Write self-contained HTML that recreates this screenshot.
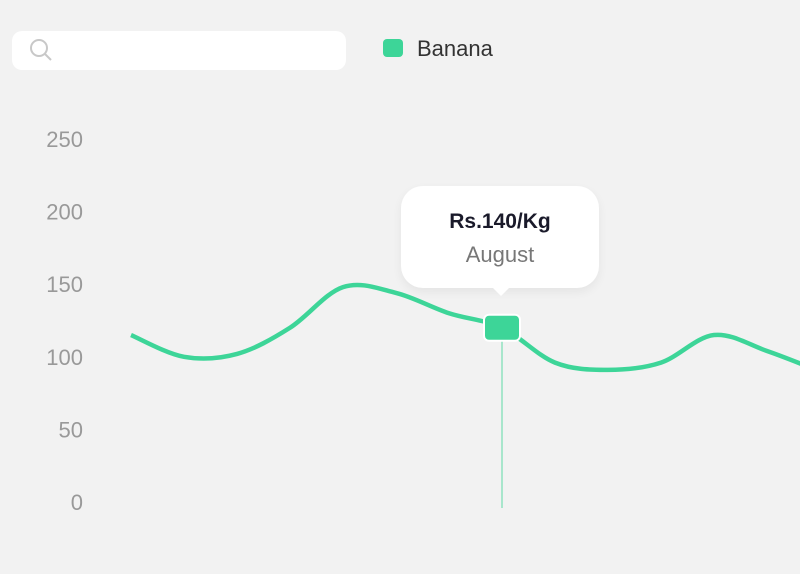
<!DOCTYPE html>
<html><head><meta charset="utf-8"><style>
body{margin:0;background:#f2f2f2;font-family:"Liberation Sans",sans-serif;}
#wrap{position:relative;width:800px;height:574px;overflow:hidden;background:#f2f2f2;}
</style></head><body>
<div id="wrap">
<div style="position:absolute;left:12px;top:31px;width:334px;height:39px;background:#fff;border-radius:10px;">
<svg width="26" height="26" style="position:absolute;left:16px;top:6px"><circle cx="11" cy="11" r="8" fill="none" stroke="#c8c8c8" stroke-width="2"/><line x1="17" y1="17" x2="23" y2="23" stroke="#c8c8c8" stroke-width="2"/></svg>
</div>
<div style="position:absolute;left:383px;top:38px;">
<div style="position:absolute;left:0;top:1px;width:20px;height:18px;background:#3dd598;border-radius:4px"></div>
<div style="position:absolute;left:34px;top:-2px;font-size:22px;color:#333;white-space:nowrap">Banana</div>
</div>
<svg id="chart" width="800" height="574" style="position:absolute;left:0;top:0"></svg>
<div style="position:absolute;left:401px;top:186px;width:198px;height:102px;background:#fff;border-radius:22px;box-shadow:0 4px 10px rgba(0,0,0,0.06);text-align:center;">
<div style="margin-top:24px;font-size:21px;font-weight:bold;color:#1a1a2a">Rs.140/Kg</div>
<div style="margin-top:8px;font-size:22px;color:#777">August</div>
<div style="position:absolute;left:91px;bottom:-8px;width:0;height:0;border-left:9px solid transparent;border-right:9px solid transparent;border-top:9px solid #fff"></div>
</div>
</div>
<script>
const categories=["Jan","Feb","Mar","Apr","May","Jun","Jul","Aug","Sep","Oct","Nov","Dec","Jan2","Feb2"];
const values=[115,100,102,120,148,144,130,120,96,91,96,115,104,90];
const yTicks=[0,50,100,150,200,250];
const activeIndex=7;
const svg=document.getElementById('chart');
const NS='http://www.w3.org/2000/svg';
const x=i=>131+53*i;
const y=v=>502-v*1.452;
yTicks.forEach(t=>{
 const el=document.createElementNS(NS,'text');
 
 
 el.setAttribute('x',83);el.setAttribute('y',y(t)+8);
 el.setAttribute('text-anchor','end');el.setAttribute('font-size','22');el.setAttribute('fill','#999');
 el.setAttribute('font-family','Liberation Sans, sans-serif');
 el.textContent=t;svg.appendChild(el);
});
const pts=values.map((v,i)=>[x(i),y(v)]);
let d='M'+pts[0][0]+','+pts[0][1];
for(let i=0;i<pts.length-1;i++){
 const p0=pts[i-1]||pts[i],p1=pts[i],p2=pts[i+1],p3=pts[i+2]||p2;
 d+=` C${p1[0]+(p2[0]-p0[0])/6},${p1[1]+(p2[1]-p0[1])/6} ${p2[0]-(p3[0]-p1[0])/6},${p2[1]-(p3[1]-p1[1])/6} ${p2[0]},${p2[1]}`;
}
const vl=document.createElementNS(NS,'line');


vl.setAttribute('x1',x(activeIndex));vl.setAttribute('x2',x(activeIndex));
vl.setAttribute('y1',y(values[activeIndex]));vl.setAttribute('y2',508);
vl.setAttribute('stroke','#a8e6cc');vl.setAttribute('stroke-width','2');svg.appendChild(vl);
const path=document.createElementNS(NS,'path');


path.setAttribute('d',d);path.setAttribute('fill','none');path.setAttribute('stroke','#3dd598');path.setAttribute('stroke-width','4.5');
svg.appendChild(path);
const m=document.createElementNS(NS,'rect');


m.setAttribute('x',x(activeIndex)-18);m.setAttribute('y',y(values[activeIndex])-13);
m.setAttribute('width',36);m.setAttribute('height',26);m.setAttribute('rx',5);
m.setAttribute('fill','#3dd598');m.setAttribute('stroke','#fff');m.setAttribute('stroke-width','2');
svg.appendChild(m);
</script>
</body></html>
